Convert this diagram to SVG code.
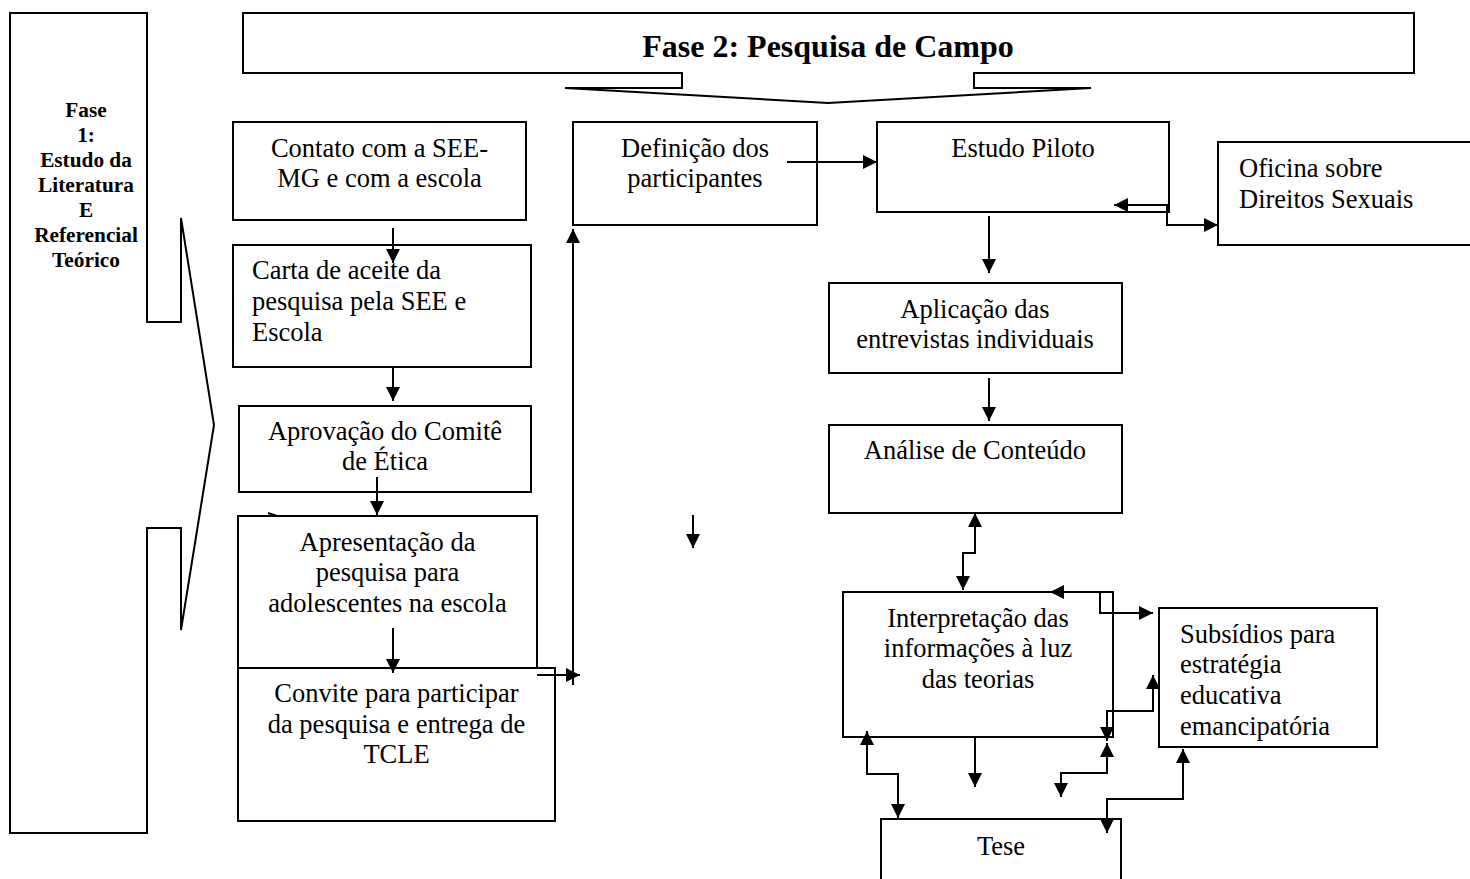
<svg xmlns="http://www.w3.org/2000/svg" width="1470" height="879" viewBox="0 0 1470 879">
<defs>
<style>
.box{fill:#fff;stroke:#000;stroke-width:2}
.shape{fill:#fff;stroke:#000;stroke-width:2;stroke-linejoin:miter}
.t{font-family:"Liberation Serif","Times New Roman",serif;font-size:26.5px;fill:#000}
.c{text-anchor:middle}
.b1{font-family:"Liberation Serif","Times New Roman",serif;font-size:21.3px;font-weight:bold;fill:#000;text-anchor:middle}
.b2{font-family:"Liberation Serif","Times New Roman",serif;font-size:32px;font-weight:bold;fill:#000;text-anchor:middle}
.con path{fill:none;stroke:#000;stroke-width:2}
</style>
<marker id="ah" viewBox="0 0 14 14" refX="14" refY="7" markerWidth="14" markerHeight="14" markerUnits="userSpaceOnUse" orient="auto-start-reverse">
<path d="M0,0 L14,7 L0,14 z" fill="#000"/>
</marker>
</defs>
<rect width="1470" height="879" fill="#fff"/>

<g id="fase1">
<path class="shape" d="M10,13 H147 V322 H181 V218 L214,425 L181,630 V528 H147 V833 H10 Z"/>
<text class="b1" x="86" y="117">Fase</text>
<text class="b1" x="86" y="142">1:</text>
<text class="b1" x="86" y="167">Estudo da</text>
<text class="b1" x="86" y="192">Literatura</text>
<text class="b1" x="86" y="217">E</text>
<text class="b1" x="86" y="242">Referencial</text>
<text class="b1" x="86" y="267">Teórico</text>
</g>

<g id="fase2">
<path class="shape" d="M243,13 H1414 V73 H974 V88 H1091 L828,103 L565,88 H682 V73 H243 Z"/>
<text class="b2" x="828" y="57">Fase 2: Pesquisa de Campo</text>
</g>

<g id="contato">
<rect class="box" x="233" y="122" width="293" height="98"/>
<text class="t c" x="379.5" y="157">Contato com a SEE-</text>
<text class="t c" x="379.5" y="187">MG e com a escola</text>
</g>

<g id="carta">
<rect class="box" x="233" y="245" width="298" height="122"/>
<text class="t" x="252" y="279">Carta de aceite da</text>
<text class="t" x="252" y="310">pesquisa pela SEE e</text>
<text class="t" x="252" y="341">Escola</text>
</g>

<g id="aprovacao">
<rect class="box" x="239" y="406" width="292" height="86"/>
<text class="t c" x="385" y="440">Aprovação do Comitê</text>
<text class="t c" x="385" y="470">de Ética</text>
</g>

<g id="apresentacao">
<rect class="box" x="238" y="516" width="299" height="152"/>
<text class="t c" x="387.5" y="551">Apresentação da</text>
<text class="t c" x="387.5" y="581">pesquisa para</text>
<text class="t c" x="387.5" y="612">adolescentes na escola</text>
</g>

<g id="convite">
<rect class="box" x="238" y="668" width="317" height="153"/>
<text class="t c" x="396.5" y="702">Convite para participar</text>
<text class="t c" x="396.5" y="733">da pesquisa e entrega de</text>
<text class="t c" x="396.5" y="763">TCLE</text>
</g>

<g id="definicao">
<rect class="box" x="573" y="122" width="244" height="103"/>
<text class="t c" x="695" y="157">Definição dos</text>
<text class="t c" x="695" y="187">participantes</text>
</g>

<g id="estudo">
<rect class="box" x="877" y="122" width="292" height="90"/>
<text class="t c" x="1023" y="157">Estudo Piloto</text>
</g>

<g id="oficina">
<rect class="box" x="1218" y="142" width="270" height="103"/>
<text class="t" x="1239" y="177">Oficina sobre</text>
<text class="t" x="1239" y="208">Direitos Sexuais</text>
</g>

<g id="aplicacao">
<rect class="box" x="829" y="283" width="293" height="90"/>
<text class="t c" x="975" y="318">Aplicação das</text>
<text class="t c" x="975" y="348">entrevistas individuais</text>
</g>

<g id="analise">
<rect class="box" x="829" y="425" width="293" height="88"/>
<text class="t c" x="975" y="459">Análise de Conteúdo</text>
</g>

<g id="interpretacao">
<rect class="box" x="843" y="592" width="270" height="145"/>
<text class="t c" x="978" y="627">Interpretação das</text>
<text class="t c" x="978" y="657">informações à luz</text>
<text class="t c" x="978" y="688">das teorias</text>
</g>

<g id="subsidios">
<rect class="box" x="1159" y="608" width="218" height="139"/>
<text class="t" x="1180" y="643">Subsídios para</text>
<text class="t" x="1180" y="673">estratégia</text>
<text class="t" x="1180" y="704">educativa</text>
<text class="t" x="1180" y="735">emancipatória</text>
</g>

<g id="tese">
<rect class="box" x="881" y="819" width="240" height="90"/>
<text class="t c" x="1001" y="855">Tese</text>
</g>

<g id="connectors" class="con">
<path d="M393,228 V263" marker-end="url(#ah)"/>
<path d="M393,367 V401" marker-end="url(#ah)"/>
<path d="M377,477 V515" marker-end="url(#ah)"/>
<path d="M393,628 V673" marker-end="url(#ah)"/>
<path d="M537,675 H580" marker-end="url(#ah)"/>
<path d="M573,685 V229" marker-end="url(#ah)"/>
<path d="M268,513 L277,516"/>
<path d="M693,515 V548" marker-end="url(#ah)"/>
<path d="M787,162 H877" marker-end="url(#ah)"/>
<path d="M1218,225 H1167 V205 H1114" marker-start="url(#ah)" marker-end="url(#ah)"/>
<path d="M989,216 V273" marker-end="url(#ah)"/>
<path d="M989,378 V421" marker-end="url(#ah)"/>
<path d="M975,513 V553 H963 V590" marker-start="url(#ah)" marker-end="url(#ah)"/>
<path d="M1050,592 H1100 V613 H1153" marker-start="url(#ah)" marker-end="url(#ah)"/>
<path d="M1153,675 V711 H1107 V741" marker-start="url(#ah)" marker-end="url(#ah)"/>
<path d="M1107,743 V773 H1061 V797" marker-start="url(#ah)" marker-end="url(#ah)"/>
<path d="M867,731 V774 H898 V818" marker-start="url(#ah)" marker-end="url(#ah)"/>
<path d="M975,737 V787" marker-end="url(#ah)"/>
<path d="M1107,833 V799 H1183 V749" marker-start="url(#ah)" marker-end="url(#ah)"/>
</g>
</svg>
